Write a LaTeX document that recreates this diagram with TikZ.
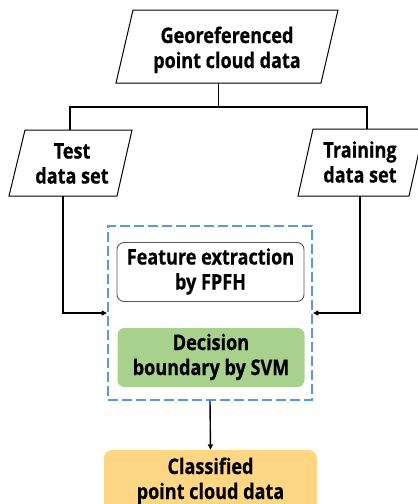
\documentclass[tikz,border=0pt]{standalone}
\usepackage{fontspec}
\setmainfont{Open Sans}[FakeStretch=0.84, BoldFeatures={FakeBold=0.6}]
\usetikzlibrary{arrows.meta}
\definecolor{dashblue}{HTML}{5B9BD5}
\definecolor{svmgreen}{HTML}{A9D18E}
\definecolor{outorange}{HTML}{FFD683}
\definecolor{boxgray}{HTML}{595959}
\tikzset{
  lbl/.style={font=\fontsize{21.5}{25}\selectfont\bfseries, align=center, inner sep=0pt},
  para/.style={draw=black, line width=1pt, fill=white, line join=miter},
  conn/.style={draw=black, line width=1.4pt},
  arr/.style={conn, -{Triangle[length=5.5pt,width=5pt]}},
  group/.style={draw=dashblue, line width=1.8pt, dash pattern=on 10pt off 4pt,
    minimum width=204pt, minimum height=174pt, inner sep=0pt},
  proc/.style={rounded corners=7pt, minimum width=187pt, minimum height=59pt, inner sep=0pt,
    font=\fontsize{21.5}{25}\selectfont\bfseries, align=center},
}
\newcommand{\lines}[2]{\strut #1\\\strut #2}
\begin{document}
\begin{tikzpicture}[x=1pt, y=-1pt]
  \useasboundingbox (0,0) rectangle (418,504);

  % input data (parallelograms)
  \draw[para] (133,10) -- (338,10) -- (321,83) -- (116,83) -- cycle;
  \node[lbl] (geo) at (227,50.5) {\lines{Georeferenced}{point cloud data}};
  \coordinate (geoB) at (218.5,83);

  \draw[para] (25,130) -- (132,130) -- (117,196) -- (9,196) -- cycle;
  \node[lbl] (test) at (72,166) {\lines{Test}{data set}};
  \coordinate (testT) at (70,130);
  \coordinate (testB) at (63,196);

  \draw[para] (313,129) -- (424,129) -- (409,196) -- (298,196) -- cycle;
  \node[lbl] (train) at (360,165) {\lines{Training}{data set}};
  \coordinate (trainT) at (367,129);
  \coordinate (trainB) at (360,196);

  % classification stage
  \node[group] (grp) at (210,313) {};
  \node[proc, draw=boxgray, line width=0.9pt, fill=white] (fpfh) at (210.5,272)
    {\lines{Feature extraction}{by FPFH}};
  \node[proc, fill=svmgreen] (svm) at (211,357.5)
    {\lines{Decision}{boundary by SVM}};

  % output
  \node[proc, fill=outorange, rounded corners=8pt, minimum width=213pt, minimum height=63pt]
    (out) at (210.5,481.5) {\lines{Classified}{point cloud data}};

  % connectors
  \coordinate (bus) at (218.5,107);
  \draw[conn] (geoB) -- (bus);
  \draw[conn] (testT) |- (bus) -| (trainT);
  \draw[arr] (testB) |- (grp.west);
  \draw[arr] (trainB) |- (grp.east);
  \draw[arr] (grp.south) -- (out.north);
\end{tikzpicture}
\end{document}
